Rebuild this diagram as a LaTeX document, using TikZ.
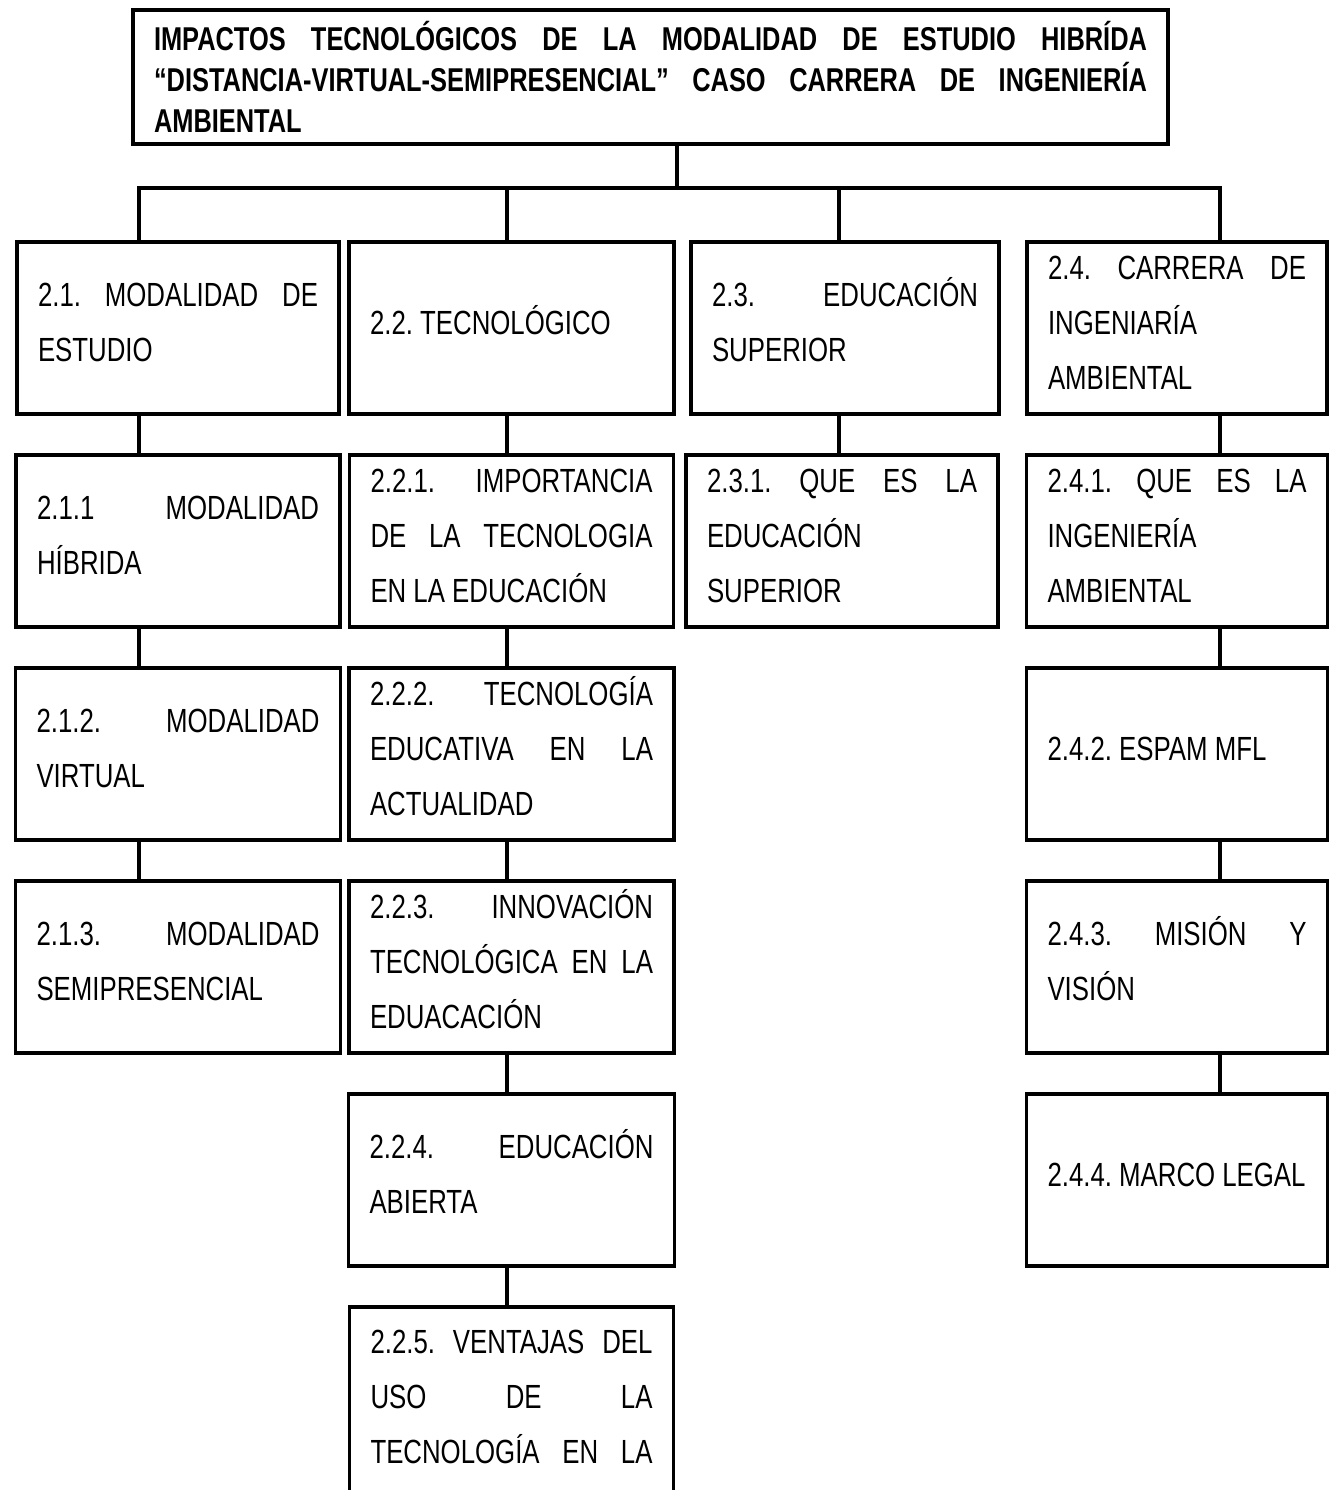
\documentclass[tikz,border=0pt]{standalone}
\usepackage{fontspec}
\setmainfont{Liberation Sans}[FakeStretch=0.77]
\usetikzlibrary{positioning}
\frenchspacing
\tolerance=10000
\hyphenpenalty=10000

\begin{document}
\begin{tikzpicture}[
    x=1pt, y=-1pt,
    node distance=41pt,
    titulo/.style={
        rectangle,
        draw,
        line width=3.5pt,
        outer sep=0pt,
        inner xsep=21pt,
        text width=993pt,
        minimum height=134pt,
        align=justify,
        font=\fontsize{33}{41}\selectfont\bfseries
    },
    tema/.style={
        rectangle,
        draw,
        line width=3.5pt,
        outer sep=0pt,
        inner xsep=21pt,
        inner ysep=0pt,
        minimum height=172pt,
        align=justify,
        font=\fontsize{33.5}{55}\selectfont,
        execute at begin node={\rule{0pt}{32pt}},
        execute at end node={\rule[-20pt]{0pt}{20pt}}
    },
    linea/.style={
        line width=3.5pt
    }
]
\useasboundingbox (0,0) rectangle (1331,1490);
\clip (0,0) rectangle (1331,1490);

\node[titulo] (raiz) at (650.5,77) {IMPACTOS TECNOLÓGICOS DE LA MODALIDAD DE ESTUDIO HIBRÍDA\linebreak “DISTANCIA-VIRTUAL-SEMIPRESENCIAL” CASO CARRERA DE INGENIERÍA\linebreak AMBIENTAL};

% primer nivel
\node[tema, text width=280pt] (b21) at (178,328) {2.1. MODALIDAD DE\linebreak ESTUDIO};
\node[tema, text width=283pt] (b22) at (511.5,328) {2.2. TECNOLÓGICO};
\node[tema, text width=266pt] (b23) at (845,328) {2.3. EDUCACIÓN\linebreak SUPERIOR};
\node[tema, text width=258pt] (b24) at (1177,328) {2.4. CARRERA DE\linebreak INGENIARÍA\linebreak AMBIENTAL};

% columna 2.1
\node[tema, text width=282pt, below=of b21] (b211) {2.1.1 MODALIDAD\linebreak HÍBRIDA};
\node[tema, text width=283pt, below=of b211] (b212) {2.1.2. MODALIDAD\linebreak VIRTUAL};
\node[tema, text width=283pt, below=of b212] (b213) {2.1.3. MODALIDAD\linebreak SEMIPRESENCIAL};

% columna 2.2
\node[tema, text width=282pt, below=of b22] (b221) {2.2.1. IMPORTANCIA\linebreak DE LA TECNOLOGIA\linebreak EN LA EDUCACIÓN};
\node[tema, text width=283pt, below=of b221] (b222) {2.2.2. TECNOLOGÍA\linebreak EDUCATIVA EN LA\linebreak ACTUALIDAD};
\node[tema, text width=283pt, below=of b222] (b223) {2.2.3. INNOVACIÓN\linebreak TECNOLÓGICA EN LA\linebreak EDUACACIÓN};
\node[tema, text width=284pt, below=of b223] (b224) {2.2.4. EDUCACIÓN\linebreak ABIERTA};
\node[tema, text width=282pt, minimum height=245pt, below=of b224] (b225) {2.2.5. VENTAJAS DEL\linebreak USO DE LA\linebreak TECNOLOGÍA EN LA\linebreak\mbox{}};

% columna 2.3
\node[tema, text width=270pt, below=of b23, xshift=-3pt] (b231) {2.3.1. QUE ES LA\linebreak EDUCACIÓN\linebreak SUPERIOR};

% columna 2.4
\node[tema, text width=259pt, below=of b24] (b241) {2.4.1. QUE ES LA\linebreak INGENIERÍA\linebreak AMBIENTAL};
\node[tema, text width=259pt, below=of b241] (b242) {2.4.2. ESPAM MFL};
\node[tema, text width=259pt, below=of b242] (b243) {2.4.3. MISIÓN Y\linebreak VISIÓN};
\node[tema, text width=259pt, below=of b243] (b244) {\mbox{2.4.4. MARCO LEGAL}};

\coordinate (barra) at (677,188);
\coordinate (c1) at (139,0);
\coordinate (c2) at (507,0);
\coordinate (c3) at (839,0);
\coordinate (c4) at (1220,0);

\draw[linea] (raiz.south -| barra) -- (barra);
\draw[linea] (b21.north -| c1) |- (barra) -| (b24.north -| c4);
\draw[linea] (barra -| c2) -- (b22.north -| c2);
\draw[linea] (barra -| c3) -- (b23.north -| c3);

\draw[linea] (b21.south -| c1) -- (b211.north -| c1);
\draw[linea] (b211.south -| c1) -- (b212.north -| c1);
\draw[linea] (b212.south -| c1) -- (b213.north -| c1);

\draw[linea] (b22.south -| c2) -- (b221.north -| c2);
\draw[linea] (b221.south -| c2) -- (b222.north -| c2);
\draw[linea] (b222.south -| c2) -- (b223.north -| c2);
\draw[linea] (b223.south -| c2) -- (b224.north -| c2);
\draw[linea] (b224.south -| c2) -- (b225.north -| c2);

\draw[linea] (b23.south -| c3) -- (b231.north -| c3);

\draw[linea] (b24.south -| c4) -- (b241.north -| c4);
\draw[linea] (b241.south -| c4) -- (b242.north -| c4);
\draw[linea] (b242.south -| c4) -- (b243.north -| c4);
\draw[linea] (b243.south -| c4) -- (b244.north -| c4);

\end{tikzpicture}
\end{document}
